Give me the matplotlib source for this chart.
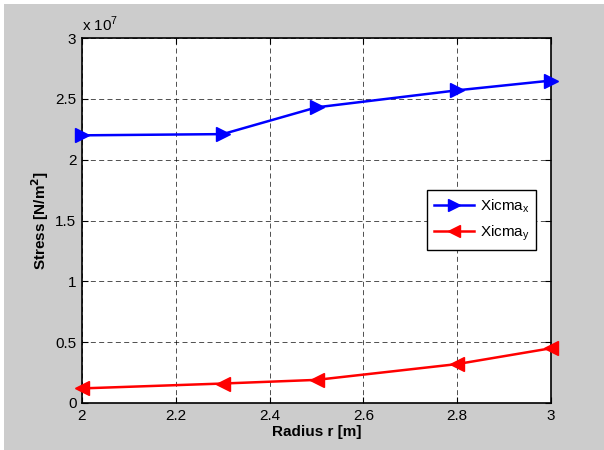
import matplotlib
matplotlib.use("Agg")
import matplotlib.pyplot as plt
from matplotlib.patches import Rectangle

radius = [2.0, 2.3, 2.5, 2.8, 3.0]
xicma_x = [2.20e7, 2.21e7, 2.43e7, 2.57e7, 2.65e7]
xicma_y = [0.12e7, 0.16e7, 0.19e7, 0.32e7, 0.45e7]
xticks = [2.0, 2.2, 2.4, 2.6, 2.8, 3.0]
xticklabels = ["2", "2.2", "2.4", "2.6", "2.8", "3"]
yticks = [0, 0.5e7, 1e7, 1.5e7, 2e7, 2.5e7, 3e7]
yticklabels = ["0", "0.5", "1", "1.5", "2", "2.5", "3"]

plt.rcParams['font.family'] = ['Liberation Sans', 'DejaVu Sans']
W, H = 604, 450
fig = plt.figure(figsize=(W/100, H/100), dpi=100, facecolor='white')
fig.patches.append(Rectangle((4/W, 0), 1 - 4/W, 1 - 4/H, transform=fig.transFigure,
                             facecolor='#cccccc', edgecolor='none', zorder=-10))

ax = fig.add_axes([82/W, 1 - 403/H, (551-82)/W, (403-38)/H])
ax.set_facecolor('white')
ax.plot(radius, xicma_x, color='#0000ff', lw=1.8, marker='>', ms=10,
        markeredgecolor='#0000ff', label='Xicma$_\\mathregular{x}$', clip_on=False, zorder=5)
ax.plot(radius, xicma_y, color='#ff0000', lw=1.8, marker='<', ms=10,
        markeredgecolor='#ff0000', label='Xicma$_\\mathregular{y}$', clip_on=False, zorder=5)

ax.set_xlim(2, 3)
ax.set_ylim(0, 3e7)
ax.set_xticks(xticks)
ax.set_xticklabels(xticklabels)
ax.set_yticks(yticks)
ax.set_yticklabels(yticklabels)
ax.tick_params(direction='in', top=True, right=True, length=4, width=0.8,
               labelsize=11, colors='black', pad=4)
for s in ax.spines.values():
    s.set_linewidth(1.2)
    s.set_color('black')
ax.grid(True, color='black', linestyle=(0, (6, 4)), linewidth=0.6, alpha=0.8)
ax.set_axisbelow(True)

ax.text(0.0, 1.01, 'x 10$^\\mathregular{7}$', transform=ax.transAxes, fontsize=11,
        ha='left', va='bottom')

ax.set_xlabel('Radius r [m]', fontsize=11, fontweight='bold', labelpad=2)
ax.set_ylabel('Stress [N/m$^\\mathbf{2}$]', fontsize=11, fontweight='bold', labelpad=3)

leg = ax.legend(loc='upper left', bbox_to_anchor=((427-82)/(551-82), (403-190)/(403-38)),
                borderaxespad=0, fontsize=11, frameon=True, fancybox=False, framealpha=1,
                edgecolor='black', handlelength=2.6, borderpad=0.45, labelspacing=0.6,
                handletextpad=0.4, markerscale=0.9)
leg.get_frame().set_linewidth(1.0)

fig.savefig('out.png', dpi=100, facecolor=fig.get_facecolor())
